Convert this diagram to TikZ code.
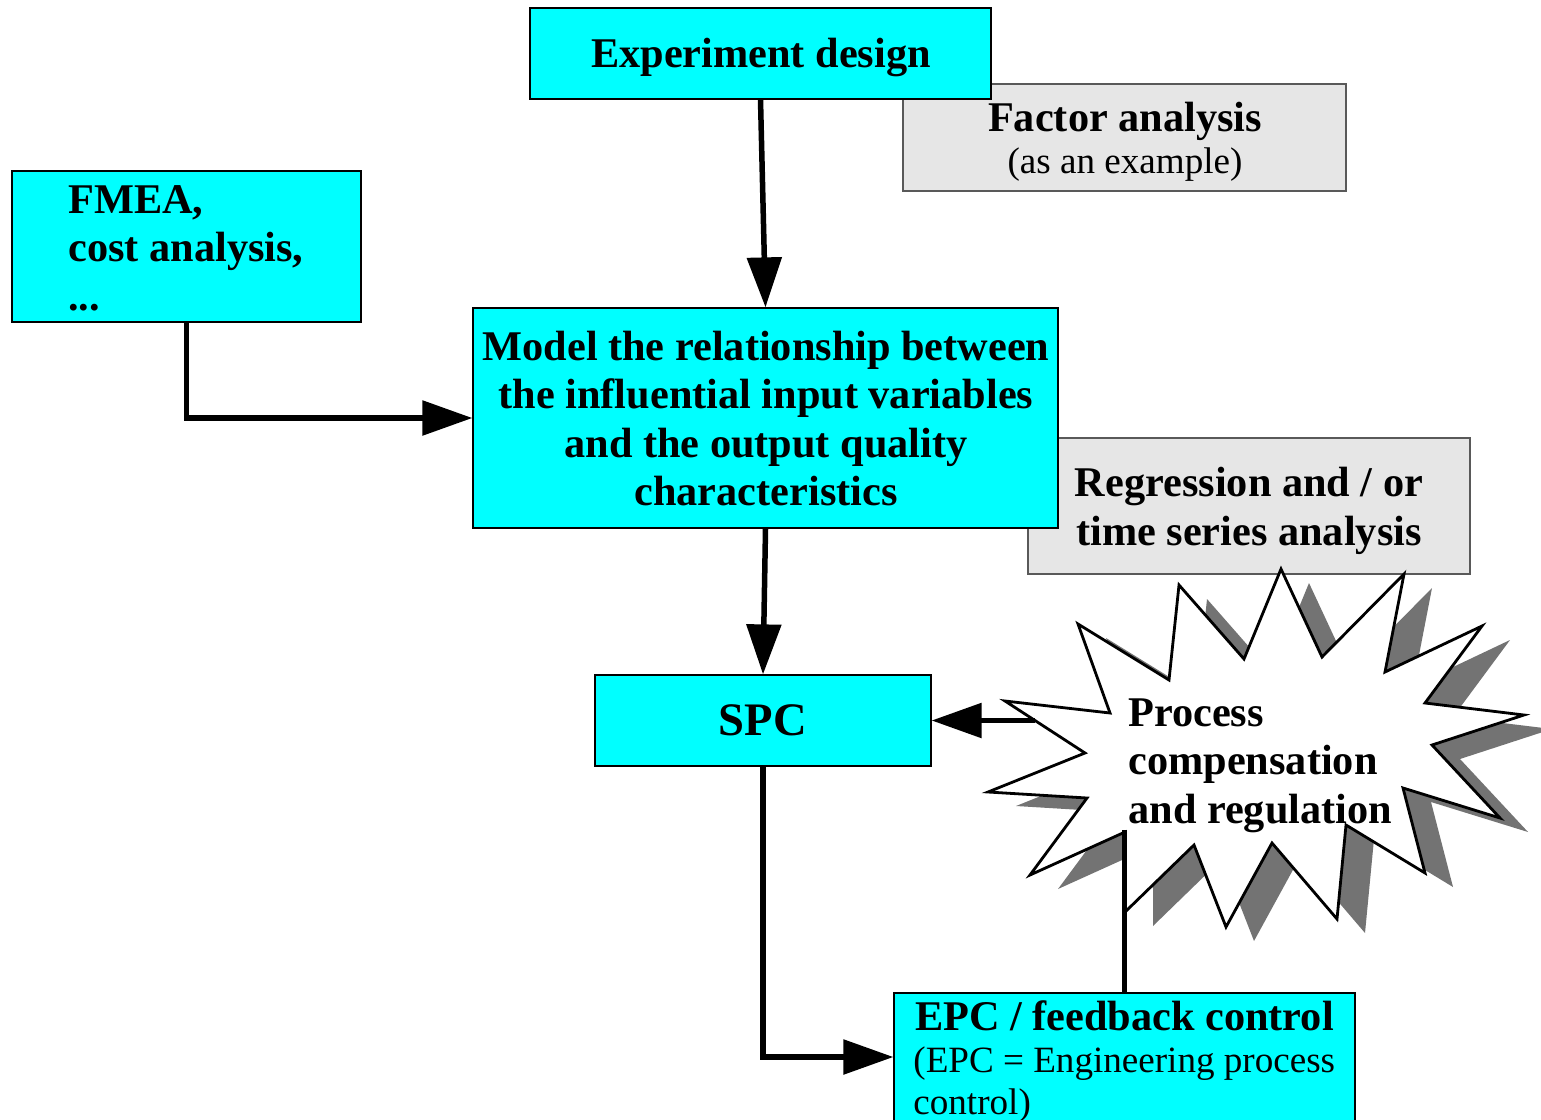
\documentclass[tikz,border=0pt]{standalone}
\usepackage{fontspec}
\setmainfont{Liberation Serif}
\usetikzlibrary{arrows.meta}
\definecolor{boxcyan}{HTML}{00FFFF}
\definecolor{boxgrey}{HTML}{E6E6E6}
\definecolor{shadowgrey}{HTML}{737373}

\begin{document}
\begin{tikzpicture}[x=0.5pt,y=-0.5pt,
  cbox/.style={draw=black, line width=0.6pt, fill=boxcyan, inner sep=0pt},
  gbox/.style={draw=black!65, line width=0.6pt, fill=boxgrey, inner sep=0pt},
  btext/.style={inner sep=0pt, font=\fontsize{21.15}{24.2}\selectfont\bfseries},
  rtext/.style={inner sep=0pt, font=\fontsize{18.55}{21}\selectfont},
  flow/.style={line width=2.75pt, -{Triangle[length=25pt,width=17pt]}},
  link/.style={line width=2.75pt},
  burst/.style={draw=black, line width=1.4pt, line join=miter, fill=white},
]
\useasboundingbox (0,0) rectangle (1541,1119);
\clip (0,0) rectangle (1541,1119);

% boxes (grey helpers first, so the cyan boxes overlap them)
\node[gbox, minimum width=221.5pt, minimum height=53.5pt] (factor) at (1124.5,137.5) {};
\node[cbox, minimum width=230.5pt, minimum height=45.5pt] (exp) at (760.5,53.5) {};
\node[cbox, minimum width=174.5pt, minimum height=75.5pt] (fmea) at (186.5,246.5) {};
\node[gbox, minimum width=221pt, minimum height=68pt] (regr) at (1249,506) {};
\node[cbox, minimum width=292.5pt, minimum height=110pt] (model) at (765.5,418) {};
\node[cbox, minimum width=168pt, minimum height=45.5pt] (spc) at (763,720.5) {};
\node[cbox, minimum width=230.5pt, minimum height=64pt] (epc) at (1124.5,1057) {};

% texts
\node[btext] (expT) at (761,57) {Experiment design};
\node[btext, anchor=base] (factorT) at (1125,131) {Factor analysis};
\node[rtext, anchor=base] (factorS) at (1125,173) {(as an example)};
\node[btext, anchor=west, align=left] (fmeaT) at (68,248) {FMEA,\\cost analysis,\\...};
\node[btext, align=center] (modelT) at (766,418.5)
  {Model the relationship between\\the influential input variables\\and the output quality\\characteristics};
\node[btext, align=center] (regrT) at (1249,511) {Regression and / or\\time series analysis};
\node[inner sep=0pt, font=\fontsize{23.3}{26}\selectfont\bfseries] (spcT) at (763,720) {SPC};
\node[btext, anchor=base] (epcT) at (1124.5,1030) {EPC / feedback control};
\node[rtext, anchor=west, align=left] (epcS) at (913,1084.5) {(EPC = Engineering process\\control)};

% starburst with its drop shadow
\def\burstpath{(1281,569) -- (1322,657) -- (1404,574) -- (1385,672) -- (1482,626) -- (1425,703)
  -- (1524,715) -- (1432,745) -- (1500,818) -- (1403,788) -- (1425,873) -- (1346,825)
  -- (1337,919) -- (1272,843) -- (1226,927) -- (1194,845) -- (1125,912) -- (1125,832)
  -- (1030,875) -- (1087,798) -- (988,792) -- (1085,753) -- (1005,701) -- (1110,713)
  -- (1078,624) -- (1169,680) -- (1179,585) -- (1244,659) -- cycle}
\fill[shadowgrey, shift={(28,14)}] \burstpath;
\path[burst] \burstpath;

\coordinate (burstL) at (1035,720.5);
\coordinate (burstB) at (1124.5,830);

% connectors
\draw[flow] (exp.south) -- (model.north);
\draw[flow] (fmea.south) |- (model.west);
\draw[flow] (model.south) -- (spc.north);
\draw[flow] (spc.south) |- (epc.west);
\draw[flow] (burstL) -- (spc.east);
\draw[link] (epc.north) -- (burstB);

\node[btext, anchor=west, align=left] (burstT) at (1128,765.5) {Process\\compensation\\and regulation};
\end{tikzpicture}
\end{document}
